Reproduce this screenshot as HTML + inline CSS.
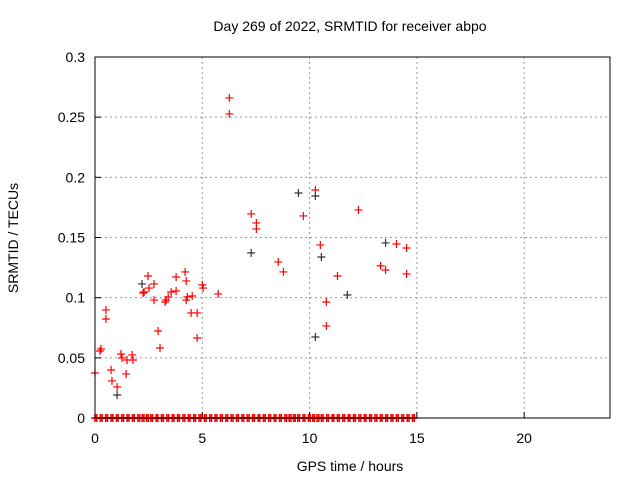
<!DOCTYPE html>
<html><head><meta charset="utf-8"><style>
body{margin:0;background:#fff}
svg text{font-family:"Liberation Sans",sans-serif;font-size:14px;fill:#000}
</style></head><body>
<svg id="chart" width="640" height="480" xmlns="http://www.w3.org/2000/svg">
<text x="350" y="31" text-anchor="middle">Day 269 of 2022, SRMTID for receiver abpo</text>
<text x="350" y="471" text-anchor="middle">GPS time / hours</text>
<text x="18" y="238" text-anchor="middle" transform="rotate(-90 18 238)">SRMTID / TECUs</text>
<g id="grid"></g><g id="ticks"></g><g id="marks"></g>
<rect x="95" y="57" width="515" height="361" fill="none" stroke="#000" stroke-width="1"/>
</svg>
<script>
const xTicks=[0,5,10,15,20];
const yTicks=[0,0.05,0.1,0.15,0.2,0.25,0.3];
const yTickLabels=["0","0.05","0.1","0.15","0.2","0.25","0.3"];
const redX=[0,0.23,0.28,0.51,0.51,0.75,0.79,1.03,1.21,1.26,1.45,1.49,1.73,1.77,2.24,2.29,2.47,2.52,2.75,2.75,2.94,3.03,3.27,3.31,3.41,3.55,3.78,3.78,4.20,4.25,4.25,4.30,4.48,4.53,4.76,4.76,5.00,5.04,5.74,6.26,6.26,7.28,7.52,7.52,8.54,8.78,9.71,10.27,10.50,10.78,10.78,11.30,12.28,13.31,13.54,14.05,14.52,14.52];
const redY=[0.0374,0.0557,0.0574,0.0898,0.0823,0.0399,0.0308,0.0258,0.0532,0.0499,0.0366,0.0482,0.0524,0.0482,0.1039,0.1047,0.118,0.108,0.1114,0.098,0.0723,0.0582,0.0964,0.098,0.1006,0.1047,0.1172,0.1056,0.1214,0.1139,0.098,0.1006,0.0873,0.1014,0.0873,0.0665,0.1106,0.108,0.1031,0.266,0.2527,0.1696,0.1621,0.1571,0.1297,0.1214,0.1679,0.1895,0.1438,0.0964,0.0765,0.118,0.1729,0.1264,0.123,0.1446,0.1413,0.1197];
const darkX=[1.03,2.19,7.28,9.48,10.27,10.27,10.55,11.76,13.54];
const darkY=[0.0191,0.1114,0.1372,0.187,0.1845,0.0673,0.1338,0.1022,0.1455];
const zeroX=[0,0.08,0.25,0.33,0.5,0.58,0.75,0.83,1,1.08,1.25,1.33,1.5,1.58,1.75,1.83,2,2.08,2.2,2.28,2.4,2.48,2.6,2.68,2.85,2.93,3.1,3.18,3.35,3.43,3.6,3.68,3.85,3.93,4.1,4.18,4.35,4.43,4.6,4.68,4.85,4.93,5.1,5.18,5.35,5.43,5.6,5.68,5.85,5.93,6.1,6.18,6.35,6.43,6.6,6.68,6.85,6.93,7.1,7.18,7.35,7.43,7.6,7.68,7.85,7.93,8.1,8.18,8.35,8.43,8.6,8.68,8.85,8.93,9.05,9.13,9.25,9.33,9.45,9.53,9.7,9.78,9.95,10.03,10.15,10.23,10.35,10.43,10.55,10.63,10.8,10.88,11.05,11.13,11.3,11.38,11.55,11.63,11.8,11.88,12.05,12.13,12.3,12.38,12.55,12.63,12.8,12.88,13.05,13.13,13.3,13.38,13.55,13.63,13.8,13.88,14.05,14.13,14.3,14.38,14.55,14.63,14.8,14.88];
const L=95,R=610,T=57,B=418;
const sx=v=>L+(v/24)*(R-L), sy=v=>B-(v/0.3)*(B-T);
const NS="http://www.w3.org/2000/svg";
function mk(tag,attrs,parent){const e=document.createElementNS(NS,tag);for(const k in attrs)e.setAttribute(k,attrs[k]);document.getElementById(parent).appendChild(e);return e;}
xTicks.forEach(t=>{
  const x=sx(t);
  if(t>0){const g=mk('line',{x1:x,x2:x,y1:T,y2:B,stroke:'#999','stroke-dasharray':'2,3'},'grid');
  
  }
  const tk=mk('line',{x1:x,x2:x,y1:B,y2:B-6,stroke:'#000'},'ticks');
  
  
  const tx=mk('text',{x:x,y:B+25,'text-anchor':'middle'},'ticks');tx.textContent=t;
  
  
});
yTicks.forEach((t,i)=>{
  const y=sy(t);
  if(t>0&&t<0.3){const g=mk('line',{x1:L,x2:R,y1:y,y2:y,stroke:'#999','stroke-dasharray':'2,3'},'grid');
  
  }
  const tk=mk('line',{x1:L,x2:L+6,y1:y,y2:y,stroke:'#000'},'ticks');
  
  
  const tx=mk('text',{x:L-10,y:y+5,'text-anchor':'end'},'ticks');tx.textContent=yTickLabels[i];
  
  
});
function cross(x,y,color,name,w){
  const p=mk('path',{d:`M${sx(x)-4},${sy(y)}h8M${sx(x)},${sy(y)-4}v8`,stroke:color,'stroke-width':w,fill:'none'},'marks');
  
  
}
darkX.forEach((x,i)=>cross(x,darkY[i],'#333','point-dark',1.2));
redX.forEach((x,i)=>cross(x,redY[i],'#f00','point-red',1.2));
zeroX.forEach(x=>cross(x,0,'#f00','point-zero',1.6));
</script>
</body></html>
